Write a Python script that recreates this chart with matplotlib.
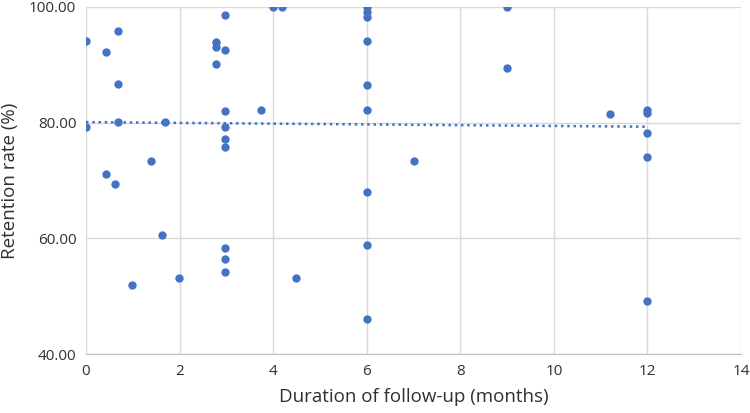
import numpy as np
import matplotlib
matplotlib.use("Agg")
import matplotlib.pyplot as plt

plt.rcParams['font.family'] = ['Open Sans', 'DejaVu Sans']

months = [0, 0.43, 0.68, 0.68, 0.68, 0, 1.68, 1.39, 0.43, 0.63,
          2.78, 2.78, 2.97, 2.97, 2.78, 2.97, 2.97, 2.97, 2.97,
          1.62, 0.98, 1.99, 2.97, 2.97, 2.97,
          3.99, 4.18, 3.73, 6, 6, 6, 6, 6, 6, 7.0, 6,
          4.48, 6, 6,
          9.0, 9.0, 11.21, 12, 12, 12, 12, 12]
retention = [94.2, 92.3, 95.8, 86.7, 80.1, 79.2, 80.1, 73.3, 71.1, 69.4,
             94.0, 93.1, 98.7, 92.6, 90.1, 82.0, 79.2, 77.2, 75.8,
             60.6, 51.9, 53.2, 58.4, 56.4, 54.2,
             100.0, 100.0, 82.2, 100.0, 99.1, 98.2, 94.2, 86.5, 82.2, 73.4, 68.0,
             53.1, 58.9, 46.1,
             100.0, 89.4, 81.5, 82.2, 81.6, 78.2, 74.0, 49.1]

# linear trendline as shown in the reference (start / end values)
trend_x = [0, 12]
trend_y = [80.1, 79.3]

x_ticks = [0, 2, 4, 6, 8, 10, 12, 14]
y_ticks = [40, 60, 80, 100]

color = '#4472C4'
text_color = '#303030'
fig = plt.figure(figsize=(7.5, 4.13), dpi=100)
ax = fig.add_axes([86/750, 1-354/413, (741-86)/750, (354-7)/413])

ax.scatter(months, retention, s=36, color=color, zorder=3, linewidths=0)
ax.plot(trend_x, trend_y, linestyle=(0, (1, 1.5)), color=color, lw=1.8, zorder=2)

ax.set_xlim(0, 14)
ax.set_ylim(40, 100)
ax.set_xticks(x_ticks)
ax.set_yticks(y_ticks)
ax.set_yticklabels([f"{v:.2f}" for v in y_ticks])
ax.grid(True, color='#D9D9D9', lw=1)
ax.set_axisbelow(True)
for s in ['top', 'right', 'left']:
    ax.spines[s].set_visible(False)
ax.spines['bottom'].set_color('#BFBFBF')
ax.tick_params(length=0, labelsize=11, colors=text_color, pad=7)
ax.set_xlabel('Duration of follow-up (months)', fontsize=13.5, color=text_color, labelpad=7)
ax.set_ylabel('Retention rate (%)', fontsize=13.5, color=text_color, labelpad=7)

fig.savefig('out.png', dpi=100)
